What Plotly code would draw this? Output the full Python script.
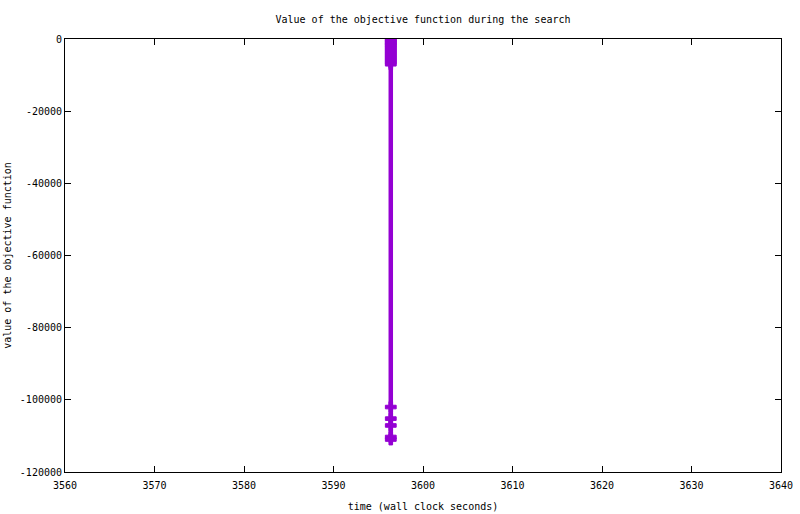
import plotly.graph_objects as go

# data
times = [3596.4] * 21
values = [0, -400, -800, -1200, -1600, -2000, -2500, -3000, -3500, -4000,
          -4500, -5000, -5500, -6000, -6500, -7000,
          -102000, -105200, -107100, -110300, -111000]

x_ticks = [3560, 3570, 3580, 3590, 3600, 3610, 3620, 3630, 3640]
x_labels = [str(v) for v in x_ticks]
y_ticks = [0, -20000, -40000, -60000, -80000, -100000, -120000]
y_labels = [str(v) for v in y_ticks]

FONT = "DejaVu Sans Mono"
COLOR = "#9400d3"

fig = go.Figure()
fig.add_trace(go.Scatter(
    x=times, y=values, mode="lines+markers",
    line=dict(color=COLOR, width=4.5),
    marker=dict(symbol="cross", size=9, color=COLOR,
                line=dict(color=COLOR, width=1)),
    showlegend=False,
))

axis_common = dict(
    automargin=False,
    showline=True, linecolor="black", linewidth=1, mirror="ticks",
    ticks="inside", ticklen=6, tickcolor="black", tickwidth=1,
    showgrid=False, zeroline=False,
    tickfont=dict(family=FONT, size=10, color="black"),
)

fig.update_layout(
    template="none",
    width=800, height=514,
    margin=dict(l=65, r=19, t=39, b=42),
    paper_bgcolor="white", plot_bgcolor="white",
    font=dict(family=FONT, size=10, color="black"),
    title=dict(text="Value of the objective function during the search",
               x=(65 + 781) / 2 / 800, xanchor="center", xref="container",
               y=1 - 19 / 514, yanchor="middle", yref="container",
               font=dict(family=FONT, size=10, color="black")),
    xaxis=dict(range=[3560, 3640], tickvals=x_ticks, ticktext=x_labels,
               ticklabelstandoff=4,
               title=dict(text="time (wall clock seconds)", standoff=12,
                          font=dict(family=FONT, size=10)),
               **axis_common),
    yaxis=dict(range=[-120000, 0], tickvals=y_ticks, ticktext=y_labels,
               title=dict(text="value of the objective function", standoff=6,
                          font=dict(family=FONT, size=10)),
               **axis_common),
)

fig.write_html(
    "out.html",
    config={"displayModeBar": False},
    post_script="document.body.style.margin='0';document.body.style.overflow='hidden';",
)
